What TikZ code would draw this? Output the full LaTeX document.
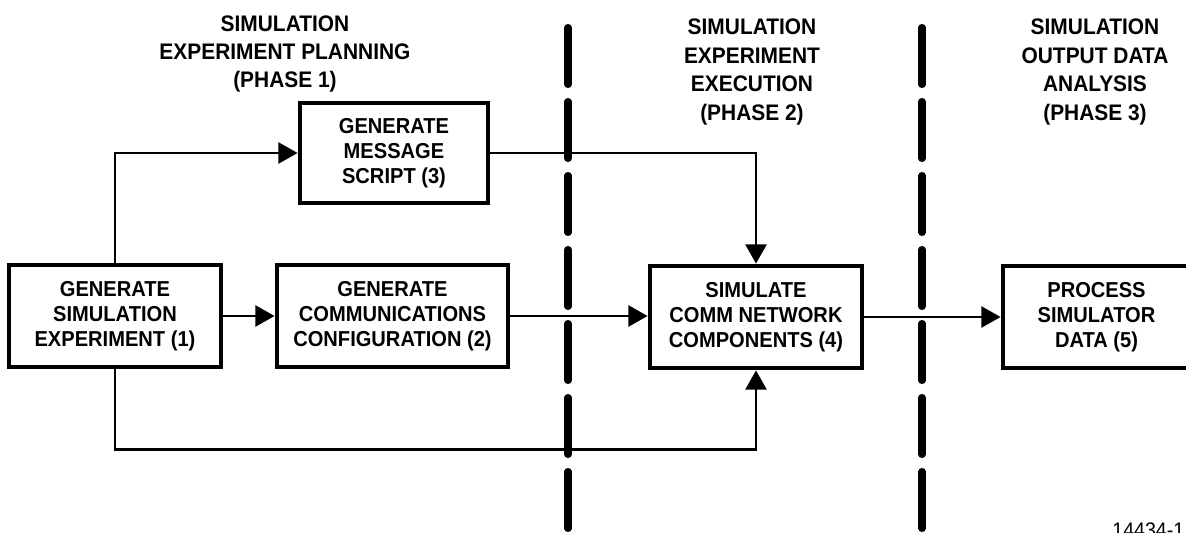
\documentclass[tikz,border=0pt]{standalone}
\usepackage{fontspec}
\setmainfont{Liberation Sans}[FakeStretch=0.93]
\usetikzlibrary{arrows.meta}
\tikzset{
  block/.style={draw, line width=2.7pt, minimum height=2.04cm, align=center, inner sep=2pt, font=\fontsize{12.3}{14.2}\selectfont\bfseries},
  phase/.style={align=center, inner sep=0pt, font=\fontsize{12.8}{16.2}\selectfont\bfseries},
  flow/.style={line width=1.4pt, -{Triangle[length=11pt,width=12pt]}},
  divider/.style={line width=4pt, line cap=round, dash pattern=on 1.14cm off 0.34cm}
}
\begin{document}
\begin{tikzpicture}
\useasboundingbox (0,0) rectangle (23.72,-10.66);
\coordinate [] (D1top) at (11.36,-0.55);
\coordinate [] (D1bot) at (11.36,-11.2);
\coordinate [] (D2top) at (18.44,-0.55);
\coordinate [] (D2bot) at (18.44,-11.2);
\draw[divider] (D1top) -- (D1bot);
\draw[divider] (D2top) -- (D2bot);
\node[phase] (ph1) at (5.70,-1.08) {SIMULATION\\EXPERIMENT PLANNING\\(PHASE 1)};
\node[phase] (ph2) at (15.04,-1.44) {SIMULATION\\EXPERIMENT\\EXECUTION\\(PHASE 2)};
\node[phase] (ph3) at (21.90,-1.44) {SIMULATION\\OUTPUT DATA\\ANALYSIS\\(PHASE 3)};
\node[block, minimum width=4.24cm] (gen1) at (2.30,-6.32) {GENERATE\\SIMULATION\\EXPERIMENT (1)};
\node[block, minimum width=4.62cm] (gen2) at (7.85,-6.32) {GENERATE\\COMMUNICATIONS\\CONFIGURATION (2)};
\node[block, minimum width=3.76cm, minimum height=2.0cm] (gen3) at (7.88,-3.06) {GENERATE\\MESSAGE\\SCRIPT (3)};
\node[block, minimum width=4.24cm] (sim4) at (15.12,-6.34) {SIMULATE\\COMM NETWORK\\COMPONENTS (4)};
\node[block, minimum width=3.74cm] (proc5) at (21.93,-6.34) {PROCESS\\SIMULATOR\\DATA (5)};
\draw[flow] (gen1) -- (gen2);
\draw[flow] (gen1.north) |- (gen3.west);
\draw[flow] (gen3.east) -| (sim4.north);
\draw[flow] (gen2.east) -- (sim4.west |- gen2.east);
\draw[flow] (gen1.south) -- ++(0,-1.6) -| (sim4.south);
\draw[flow] (sim4) -- (proc5);
\node[anchor=north west, inner sep=0pt, font=\fontsize{12}{14}\selectfont] (fignum) at (22.24,-10.44) {14434-1};
\end{tikzpicture}
\end{document}
